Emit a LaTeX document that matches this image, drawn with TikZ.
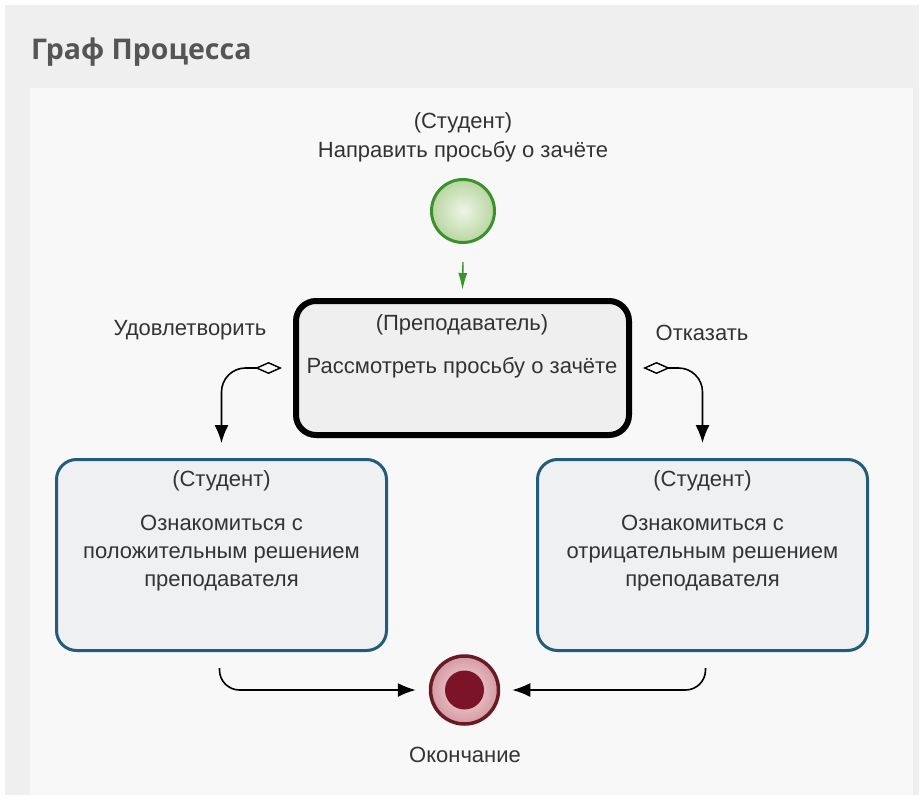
\documentclass[tikz,border=0pt]{standalone}
\usepackage{fontspec}
\setmainfont{Liberation Sans}
\newfontfamily\titlefont{Open Sans}
\usetikzlibrary{arrows.meta,shadings}
\definecolor{txt}{HTML}{333333}
\definecolor{bgout}{HTML}{EFEFEF}
\definecolor{bgpanel}{HTML}{F8F8F8}
\definecolor{titlecol}{HTML}{555555}
\definecolor{startline}{HTML}{3A922C}
\definecolor{startin}{HTML}{EEF5E6}
\definecolor{startout}{HTML}{B9D6A2}
\definecolor{teal}{HTML}{235C78}
\definecolor{boxfill}{HTML}{EEF0F2}
\definecolor{revfill}{HTML}{EFEFEF}
\definecolor{endline}{HTML}{6A1A24}
\definecolor{endin}{HTML}{F7DDE0}
\definecolor{endout}{HTML}{D49AA2}
\definecolor{enddot}{HTML}{7A1426}
\tikzset{
  lbl/.style={text=txt, font=\fontsize{22}{26}\selectfont, inner sep=0pt, anchor=center},
  actbox/.style={draw=teal, line width=3pt, rounded corners=20pt, fill=boxfill,
                 minimum width=330pt, minimum height=191pt, inner sep=0pt},
  revbox/.style={draw=black, line width=6pt, rounded corners=20pt, fill=revfill,
                 minimum width=333pt, minimum height=134pt, inner sep=0pt},
  flow/.style={draw=black, line width=1.6pt, -{Latex[length=18pt,width=14pt]}},
  fork/.style={draw=black, line width=1.6pt, rounded corners=24pt,
               {Diamond[open,length=27pt,width=12pt,line width=1.4pt]}-{Latex[length=18pt,width=14pt]}},
  gflow/.style={draw=startline, line width=1.4pt, -{Latex[length=17pt,width=9pt]}}
}
\begin{document}
\begin{tikzpicture}[x=1pt,y=-1pt]
\useasboundingbox (0,0) rectangle (924,800);
\fill[white] (0,0) rectangle (924,800);
\fill[bgout] (5,5) rectangle (919,795);
\fill[bgpanel] (30,88) rectangle (913,795);
% title
\node[anchor=west, text=titlecol, font=\titlefont\bfseries\fontsize{28.5}{32}\selectfont, inner sep=0pt] (title) at (31,52) {Граф Процесса};
% start
\node[lbl] (startrole) at (463,123) {(Студент)};
\node[lbl] (starttxt) at (463,152) {Направить просьбу о зачёте};
\node[circle, draw=startline, line width=3pt, inner color=startin, outer color=startout,
      minimum size=63pt, inner sep=0pt] (startc) at (463,211) {};
% review box
\node[revbox] (rev) at (462.5,368) {};
\node[lbl] (revrole) at (462,325) {(Преподаватель)};
\node[lbl] (revtxt) at (462,368) {Рассмотреть просьбу о зачёте};
% side boxes
\node[actbox] (lbox) at (221.5,555) {};
\node[lbl] (lrole) at (221.5,481) {(Студент)};
\node[lbl, align=center, font=\fontsize{22}{28}\selectfont] (ltxt) at (221.5,553) {Ознакомиться с\\положительным решением\\преподавателя};
\node[actbox] (rbox) at (702.5,555) {};
\node[lbl] (rrole) at (702.5,481) {(Студент)};
\node[lbl, align=center, font=\fontsize{22}{28}\selectfont] (rtxt) at (702.5,553) {Ознакомиться с\\отрицательным решением\\преподавателя};
% labels
\node[lbl] (yes) at (190,330) {Удовлетворить};
\node[lbl] (no) at (702,333) {Отказать};
% end
\node[circle, draw=endline, line width=3.5pt, inner color=endin, outer color=endout,
      minimum size=68pt, inner sep=0pt] (endc) at (464.5,690) {};
\node[circle, fill=enddot, minimum size=39pt, inner sep=0pt] (enddotn) at (464.5,690) {};
\node[lbl] (endtxt) at (465,755) {Окончание};
% connectors
\draw[gflow] ([yshift=-18pt]startc.south) -- ([yshift=8pt]rev.north);
\draw[fork] ([xshift=-11pt]rev.west) -| ([yshift=15pt]lbox.north);
\draw[fork] ([xshift=11pt]rev.east) -| ([yshift=15pt]rbox.north);
\draw[flow, rounded corners=20pt] ([xshift=-2pt,yshift=-16pt]lbox.south) |- ([xshift=-13pt]endc.west);
\draw[flow, rounded corners=20pt] ([xshift=3pt,yshift=-16pt]rbox.south) |- ([xshift=12pt]endc.east);
\end{tikzpicture}
\end{document}
